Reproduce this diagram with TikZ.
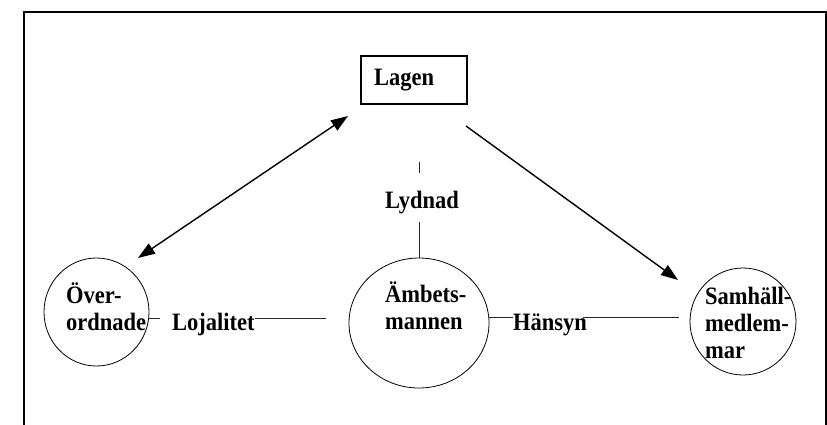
\documentclass[tikz,border=0pt]{standalone}
\usepackage{fontspec}
\setmainfont[FakeStretch=0.9]{Liberation Serif}
\usetikzlibrary{shapes.geometric,arrows.meta}
\begin{document}
\begin{tikzpicture}[x=1pt,y=-1pt,
  lbl/.style={font=\fontsize{25}{27}\selectfont\bfseries, inner sep=0pt, anchor=base west, align=left},
  bubble/.style={ellipse, draw, line width=0.8pt, inner sep=0pt},
  boxnode/.style={rectangle, draw, line width=1.1pt, inner sep=0pt, minimum width=106pt, minimum height=48pt},
  thinline/.style={line width=0.8pt, black!85},
  arr/.style={line width=1.4pt, -{Triangle[length=17pt,width=12pt]}},
  darr/.style={line width=1.4pt, {Triangle[length=17pt,width=12pt]}-{Triangle[length=17pt,width=12pt]}},
  frame/.style={line width=2pt}]
\useasboundingbox (0,0) rectangle (827,424);
\draw[frame] (24,440) -- (24,12) -- (826,12) -- (826,440);

% box
\node[boxnode] (lagen) at (414,80) {};
\node[lbl] (lagentxt) at (374,85) {Lagen};

% circles
\node[bubble, minimum width=105pt, minimum height=108pt] (ov) at (96.5,312) {};
\node[bubble, minimum width=140pt, minimum height=130pt] (amb) at (419,323) {};
\node[bubble, minimum width=106pt, minimum height=107pt] (sam) at (743,321.5) {};

\node[lbl] (ovtxt) at (66,330.5) {Över-\\ordnade};
\node[lbl] (ambtxt) at (385,329) {Ämbets-\\mannen};
\node[lbl] (samtxt) at (705,358) {Samhäll-\\medlem-\\mar};

% relation labels
\node[lbl] (lyd) at (385,208) {Lydnad};
\node[lbl] (loj) at (172,330.5) {Lojalitet};
\node[lbl] (han) at (513,330) {Hänsyn};

% coordinates for connector ends
\coordinate (a1) at (138,258);
\coordinate (a2) at (348,116);
\coordinate (b1) at (466,126);
\coordinate (b2) at (678,280);
\coordinate (ly1) at (419,162);
\coordinate (ly2) at (419,173);
\coordinate (ly3) at (419,222);
\coordinate (lo1) at (149,318);
\coordinate (lo2) at (160,318);
\coordinate (lo3) at (255,318);
\coordinate (lo4) at (326,318);
\coordinate (h1) at (489,317);
\coordinate (h2) at (513,317);
\coordinate (h3) at (583,317);
\coordinate (h4) at (679,317);

\draw[darr] (a1) -- (a2);
\draw[arr] (b1) -- (b2);

\draw[thinline] (ly1) -- (ly2);
\draw[thinline] (ly3) -- (amb.north);
\draw[thinline] (lo1) -- (lo2);
\draw[thinline] (lo3) -- (lo4);
\draw[thinline] (h1) -- (h2);
\draw[thinline] (h3) -- (h4);
\end{tikzpicture}
\end{document}
